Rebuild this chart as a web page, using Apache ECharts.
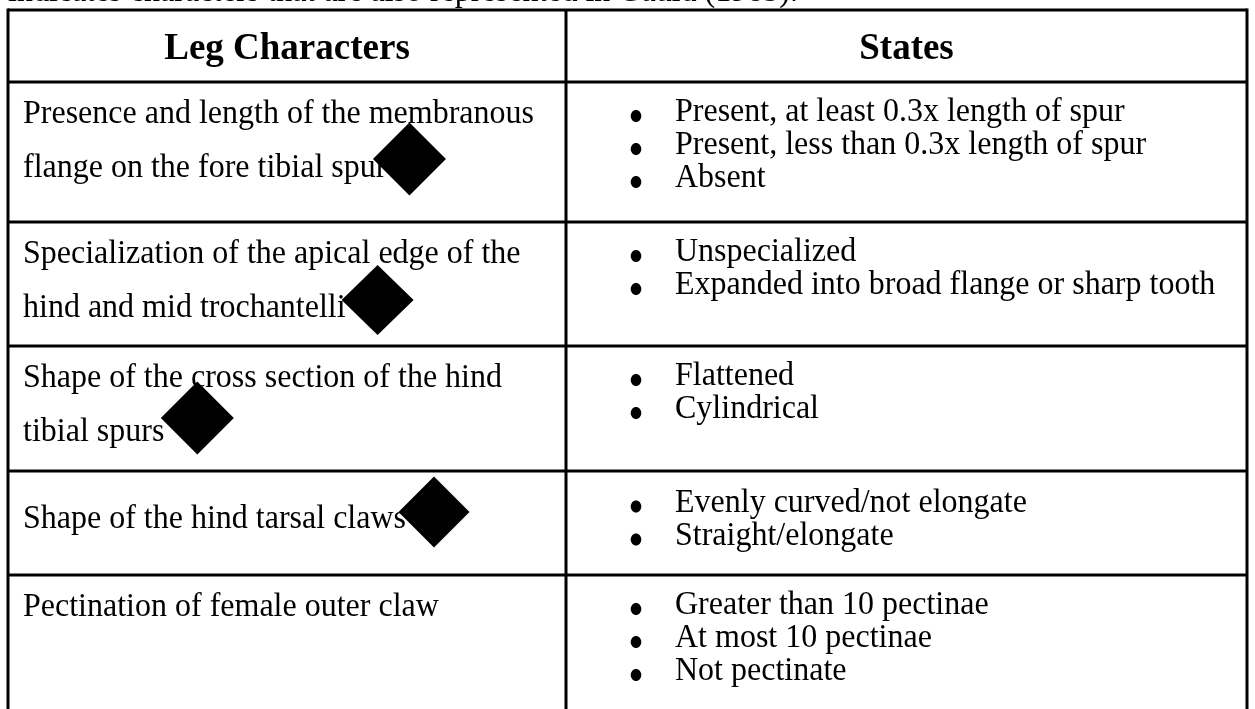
<!DOCTYPE html>
<html>
<head>
<meta charset="utf-8">
<script src="https://cdn.jsdelivr.net/npm/echarts@6/dist/echarts.min.js"></script>
<style>
html,body{margin:0;padding:0;background:#fff;}
#chart{width:1255px;height:709px;}
</style>
</head>
<body>
<div id="chart"></div>
<script>
// ---------- DATA ----------
const caption = 'indicates characters that are also represented in Gauld (1985).';
const headers = ['Leg Characters', 'States'];
const characters = [
  ['Presence and length of the membranous', 'flange on the fore tibial spur'],
  ['Specialization of the apical edge of the', 'hind and mid trochantelli'],
  ['Shape of the cross section of the hind', 'tibial spurs'],
  ['Shape of the hind tarsal claws'],
  ['Pectination of female outer claw']
];
const states = [
  ['Present, at least 0.3x length of spur', 'Present, less than 0.3x length of spur', 'Absent'],
  ['Unspecialized', 'Expanded into broad flange or sharp tooth'],
  ['Flattened', 'Cylindrical'],
  ['Evenly curved/not elongate', 'Straight/elongate'],
  ['Greater than 10 pectinae', 'At most 10 pectinae', 'Not pectinate']
];
const inGauld = [true, true, true, true, false];

// ---------- LAYOUT ----------
const W = 1255, H = 709;
const L = {
  left: 8, right: 1247, divider: 566, top: 10,
  rowLines: [82, 222, 346, 471, 575, 715],
  font: '32px "Liberation Serif", "Times New Roman", serif',
  headFont: 'bold 37px "Liberation Serif", "Times New Roman", serif',
  bodyScaleY: 1.06,
  leftX: 23, leftFirst: 36, leftGap: 54,
  bulletX: 636, stateX: 675, stateFirst: 34, stateGap: 33,
  centerRows: [3],
  textShift: -3.5,
  lineW: 3,
  diamondOff: [[23, -13, 73, 73], [32, -12, 72, 70], [33, -18, 73, 73], [28, -11, 71, 71]]
};

const ctx = document.createElement('canvas').getContext('2d');
function textWidth(t, font) { ctx.font = font; return ctx.measureText(t).width; }

const graphics = [];
function addText(t, x, y, font, align, sy) {
  graphics.push({type: 'text', silent: true, x: x, y: y, scaleY: sy || 1, style: {
    text: t, x: 0, y: L.textShift, font: font, fill: '#000',
    textAlign: align || 'left', textVerticalAlign: 'middle', align: align || 'left', verticalAlign: 'middle'
  }});
}
function addLine(x1, y1, x2, y2) {
  graphics.push({type: 'line', silent: true, shape: {x1, y1, x2, y2}, style: {stroke: '#000', lineWidth: L.lineW}});
}

// caption (cut off at top)
addText(caption, L.left, -4, L.font, 'left', L.bodyScaleY);

// grid lines
const rl = L.rowLines;
addLine(L.left, L.top, L.right, L.top);
rl.forEach(y => addLine(L.left, y, L.right, y));
addLine(L.left, L.top - 1.5, L.left, rl[rl.length - 1] + 1.5);
addLine(L.right, L.top - 1.5, L.right, rl[rl.length - 1] + 1.5);
addLine(L.divider, L.top, L.divider, rl[rl.length - 1]);

// headers
const hy = (L.top + rl[0]) / 2 + 7;
addText(headers[0], (L.left + L.divider) / 2, hy, L.headFont, 'center', 1);
addText(headers[1], (L.divider + L.right) / 2, hy, L.headFont, 'center', 1);

const diamonds = [];
characters.forEach((lines, i) => {
  const top = rl[i], bot = rl[i + 1];
  const centered = L.centerRows.indexOf(i) >= 0;
  let lastY = 0, lastW = 0;
  lines.forEach((ln, j) => {
    let y = centered ? (top + bot) / 2 + (j - (lines.length - 1) / 2) * L.leftGap : top + L.leftFirst + j * L.leftGap;
    addText(ln, L.leftX, y, L.font, 'left', L.bodyScaleY);
    lastY = y; lastW = textWidth(ln, L.font);
  });
  const st = states[i];
  st.forEach((s, j) => {
    let y = centered ? (top + bot) / 2 + (j - (st.length - 1) / 2) * L.stateGap : top + L.stateFirst + j * L.stateGap;
    graphics.push({type: 'ellipse', silent: true, shape: {cx: L.bulletX, cy: y, rx: 5.3, ry: 6}, style: {fill: '#000'}});
    addText(s, L.stateX, y, L.font, 'left', L.bodyScaleY);
  });
  if (inGauld[i]) {
    const o = L.diamondOff[i];
    diamonds.push({value: [L.leftX + lastW + o[0], lastY + o[1]], symbolSize: [o[2], o[3]]});
  }
});

const chart = echarts.init(document.getElementById('chart'), null, {renderer: 'canvas'});
chart.setOption({
  animation: false,
  backgroundColor: '#fff',
  grid: {left: 0, right: 0, top: 0, bottom: 0},
  xAxis: {type: 'value', min: 0, max: W, show: false},
  yAxis: {type: 'value', min: 0, max: H, inverse: true, show: false},
  graphic: graphics,
  series: [{
    type: 'scatter', symbol: 'diamond', data: diamonds, z: 10,
    itemStyle: {color: '#000', opacity: 1}, silent: true
  }]
});
</script>
</body>
</html>
